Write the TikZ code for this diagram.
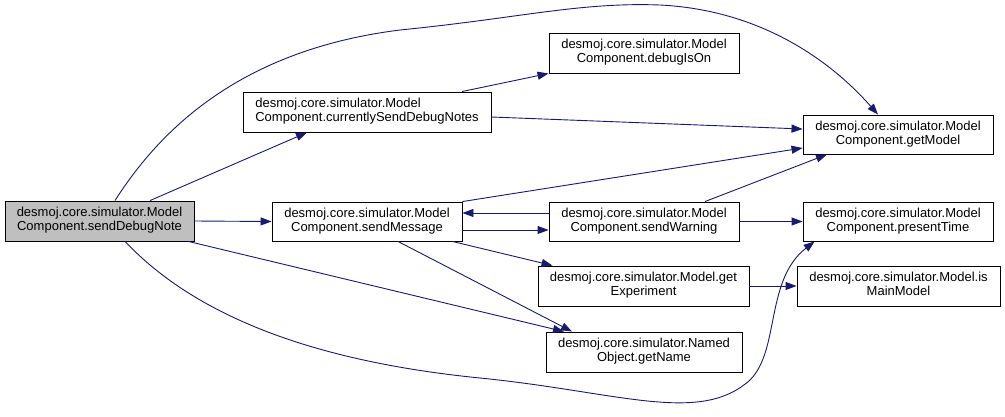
\documentclass[tikz,border=0pt]{standalone}
\usepackage{fontspec}
\setmainfont{Liberation Sans}
\usetikzlibrary{arrows.meta,calc}
\definecolor{edgeblue}{HTML}{191970}
\definecolor{boxgray}{HTML}{BFBFBF}
\newcommand{\fnlines}[2]{\begin{tabular}{@{}c@{}}#1\\#2\end{tabular}}
\newcommand{\fnlinesl}[2]{\begin{tabular}{@{}l@{}}#1\\#2\end{tabular}}
\tikzset{
  fn/.style={draw=black, line width=0.9pt, rectangle, inner sep=0pt,
    font=\fontsize{13}{14}\selectfont},
  call/.style={draw=edgeblue, line width=0.9pt, -{Triangle[length=11pt,width=8pt]}, fill=none}
}
\begin{document}
\begin{tikzpicture}[x=1pt,y=-1pt]
\useasboundingbox (0,0) rectangle (1005,416);
\node[fn, fill=boxgray, minimum width=189, minimum height=40] (sdn) at (99.5,221) {\fnlines{desmoj.core.simulator.Model}{Component.sendDebugNote}};
\node[fn, minimum width=248, minimum height=40] (csdn) at (367,112) {\fnlinesl{desmoj.core.simulator.Model}{Component.currentlySendDebugNotes}};
\node[fn, minimum width=190, minimum height=40] (dio) at (644,53) {\fnlines{desmoj.core.simulator.Model}{Component.debugIsOn}};
\node[fn, minimum width=190, minimum height=39] (sm) at (367,221.5) {\fnlines{desmoj.core.simulator.Model}{Component.sendMessage}};
\node[fn, minimum width=190, minimum height=39] (sw) at (644,221.5) {\fnlines{desmoj.core.simulator.Model}{Component.sendWarning}};
\node[fn, minimum width=211, minimum height=40] (ge) at (643.5,286) {\fnlines{desmoj.core.simulator.Model.get}{Experiment}};
\node[fn, minimum width=196, minimum height=40] (gn) at (644,352) {\fnlines{desmoj.core.simulator.Named}{Object.getName}};
\node[fn, minimum width=190, minimum height=39] (gm) at (898,134.5) {\fnlines{desmoj.core.simulator.Model}{Component.getModel}};
\node[fn, minimum width=190, minimum height=39] (pt) at (898,221.5) {\fnlines{desmoj.core.simulator.Model}{Component.presentTime}};
\node[fn, minimum width=203, minimum height=40] (imm) at (898.5,286) {\fnlines{desmoj.core.simulator.Model.is}{MainModel}};

% sendDebugNote calls
\draw[call] ($(sdn.north)+(15.5,0)$) .. controls (160,130) and (240,50) .. (400,30)
   .. controls (520,18) and (580,2) .. (660,5)
   .. controls (760,10) and (830,60) .. ($(gm.north)+(-20,0)$);
\draw[call] ($(sdn.north)+(50.5,0)$) -- ($(csdn.south)+(-60,0)$);
\draw[call] (sdn.east) -- (sm.west);
\draw[call] ($(sdn.south east)+(-6,0)$) -- ($(gn.north)+(-80,0)$);
\draw[call] ($(sdn.south)+(25.5,0)$) .. controls (190,310) and (300,360) .. (480,378)
   .. controls (620,392) and (700,425) .. (750,380)
   .. controls (780,350) and (765,280) .. ($(pt.south west)+(12,0)$);

% currentlySendDebugNotes calls
\draw[call] ($(csdn.north)+(95,0)$) -- (dio.south west);
\draw[call] ($(csdn.east)+(0,5)$) -- ($(gm.west)+(0,-5.5)$);

% sendMessage calls
\draw[call] (sm.north east) -- ($(gm.west)+(0,13.5)$);
\draw[call] ($(sm.east)+(0,8.5)$) -- ($(sw.west)+(0,8.5)$);
\draw[call] ($(sm.south east)+(-10,0)$) -- ($(ge.north west)+(15,0)$);
\draw[call] ($(sm.south)+(31,0)$) -- ($(gn.north)+(-72,0)$);

% sendWarning calls
\draw[call] ($(sw.west)+(0,-8.5)$) -- ($(sm.east)+(0,-8.5)$);
\draw[call] ($(sw.north)+(61,0)$) -- ($(gm.south)+(-71,0)$);
\draw[call] (sw.east) -- (pt.west);

% getExperiment calls
\draw[call] (ge.east) -- (imm.west);
\end{tikzpicture}
\end{document}
